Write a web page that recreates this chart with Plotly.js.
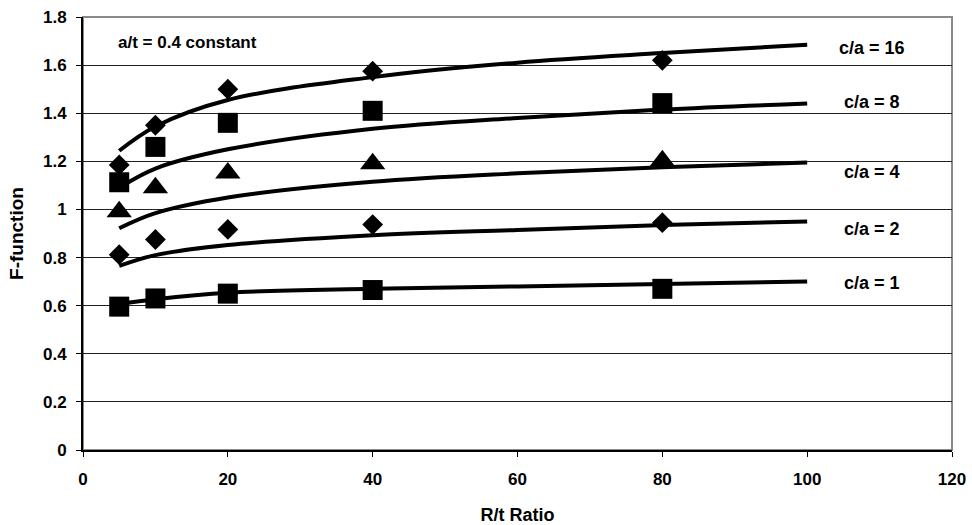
<!DOCTYPE html>
<html>
<head>
<meta charset="utf-8">
<script src="https://cdn.plot.ly/plotly-3.0.1.min.js"></script>
<style>html,body{margin:0;padding:0;background:#fff;}#chart{width:972px;height:525px;}</style>
</head>
<body>
<div id="chart"></div>
<script>
// Measured points (R/t ratio)
const ratioPts = [5, 10, 20, 40, 80];
const pts16 = [1.185, 1.35, 1.50, 1.575, 1.62];
const pts8  = [1.113, 1.26, 1.36, 1.41, 1.442];
const pts4  = [0.99, 1.09, 1.152, 1.19, 1.202];
const pts2  = [0.812, 0.875, 0.917, 0.937, 0.945];
const pts1  = [0.596, 0.63, 0.65, 0.665, 0.67];

// Fitted curves
const ratioCurve = [5, 10, 20, 40, 60, 80, 100];
const fit16 = [1.244, 1.345, 1.455, 1.55, 1.61, 1.65, 1.685];
const fit8  = [1.09, 1.17, 1.25, 1.335, 1.38, 1.415, 1.44];
const fit4  = [0.922, 0.985, 1.05, 1.115, 1.15, 1.175, 1.195];
const fit2  = [0.765, 0.81, 0.852, 0.893, 0.915, 0.935, 0.95];
const fit1  = [0.607, 0.627, 0.654, 0.67, 0.68, 0.69, 0.70];

const seriesLabels = ['c/a = 16', 'c/a = 8', 'c/a = 4', 'c/a = 2', 'c/a = 1'];
const noteText = 'a/t = 0.4 constant';
const xTitle = 'R/t Ratio';
const yTitle = 'F-function';

const FONT = 'Liberation Sans, Arial, sans-serif';
const fits = [fit16, fit8, fit4, fit2, fit1];
const ptsAll = [pts16, pts8, pts4, pts2, pts1];
const symbols = ['diamond', 'square', 'triangle-up', 'diamond', 'square'];
const sizes = [16, 20, 22, 16, 20];

const traces = [];
fits.forEach((f, i) => {
  traces.push({
    x: ratioCurve, y: f, mode: 'lines', type: 'scatter',
    line: {color: '#000', width: 4, shape: 'spline', smoothing: 1},
    hoverinfo: 'skip', showlegend: false
  });
});
ptsAll.forEach((p, i) => {
  traces.push({
    x: ratioPts, y: p, mode: 'markers', type: 'scatter',
    marker: {symbol: symbols[i], size: sizes[i], color: '#000', line: {width: 0}},
    name: seriesLabels[i], showlegend: false
  });
});

const labelY = [1.673, 1.448, 1.155, 0.918, 0.696];
const annotations = seriesLabels.map((t, i) => ({
  text: '<b>' + t + '</b>', x: 109, y: labelY[i], xref: 'x', yref: 'y',
  showarrow: false, xanchor: 'center', yanchor: 'middle',
  font: {family: FONT, size: 18, color: '#000'}
}));
annotations.push({
  text: '<b>' + noteText + '</b>', x: 4.6, y: 1.696, xref: 'x', yref: 'y',
  showarrow: false, xanchor: 'left', yanchor: 'middle',
  font: {family: FONT, size: 17, color: '#000'}
});

const layout = {
  width: 972, height: 525,
  margin: {l: 83, r: 20, t: 17, b: 75, pad: 0},
  paper_bgcolor: '#fff', plot_bgcolor: '#fff',
  font: {family: FONT, color: '#000'},
  showlegend: false,
  xaxis: {
    range: [0, 120], dtick: 20, tick0: 0,
    showgrid: false, zeroline: false,
    showline: true, linecolor: '#000', linewidth: 2,
    ticks: 'outside', ticklen: 5, tickwidth: 1, tickcolor: '#000',
    ticklabelstandoff: 8,
    tickfont: {family: FONT, size: 17, color: '#000', weight: 'bold'},
    title: {text: '<b>' + xTitle + '</b>', font: {family: FONT, size: 18, color: '#000'}, standoff: 22}
  },
  yaxis: {
    range: [0, 1.8], dtick: 0.2, tick0: 0,
    showgrid: true, gridcolor: '#222', gridwidth: 1,
    zeroline: false,
    showline: true, linecolor: '#000', linewidth: 2,
    ticks: 'outside', ticklen: 5, tickwidth: 1, tickcolor: '#000',
    ticklabelstandoff: 6,
    tickfont: {family: FONT, size: 17, color: '#000', weight: 'bold'},
    tickformat: '~g',
    title: {text: '<b>' + yTitle + '</b>', font: {family: FONT, size: 19, color: '#000'}, standoff: 14}
  },
  shapes: [{
    type: 'rect', xref: 'paper', yref: 'paper', x0: 0, x1: 1, y0: 0, y1: 1,
    line: {color: '#8a8a8a', width: 2}, layer: 'below'
  }],
  annotations: annotations
};

Plotly.newPlot('chart', traces, layout, {staticPlot: true, displayModeBar: false});
</script>
</body>
</html>
